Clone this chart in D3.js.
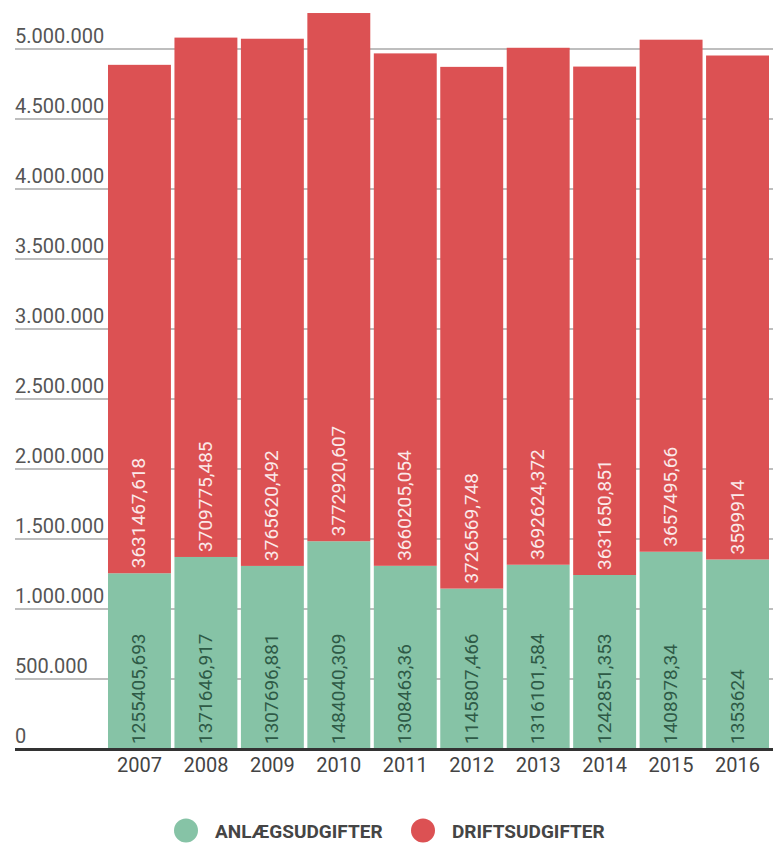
<!DOCTYPE html>
<html>
<head>
<meta charset="utf-8">
<script src="https://cdn.jsdelivr.net/npm/d3@7"></script>
<style>
  html, body { margin: 0; padding: 0; background: #fff; }
  svg { display: block; font-family: Roboto, "Noto Sans", sans-serif; }
</style>
</head>
<body>
<svg id="chart" width="773" height="843"></svg>
<script>
const years = ["2007","2008","2009","2010","2011","2012","2013","2014","2015","2016"];
const anlaeg = [1255405.693,1371646.917,1307696.881,1484040.309,1308463.36,1145807.466,1316101.584,1242851.353,1408978.34,1353624];
const drift = [3631467.618,3709775.485,3765620.492,3772920.607,3660205.054,3726569.748,3692624.372,3631650.851,3657495.66,3599914];
const yTicks = [0,500000,1000000,1500000,2000000,2500000,3000000,3500000,4000000,4500000,5000000];
const seriesNames = ["ANLÆGSUDGIFTER","DRIFTSUDGIFTER"];
const seriesColors = ["#86c3a6","#dc5153"];
const labelColors = ["#2e5a46","#fbe9e9"];

const svg = d3.select("#chart");
const loc = d3.formatLocale({decimal: ",", thousands: ".", grouping: [3], currency: ["", ""]});
const fmtTick = loc.format(",");
const fmtVal = v => String(v).replace(".", ",");

const x = d3.scaleBand().domain(years).range([108, 769]).paddingInner(0.053).paddingOuter(0);
const y = d3.scaleLinear().domain([0, 5000000]).range([749, 49]);

// grid + tick labels
const grid = svg.append("g");
grid.selectAll("line").data(yTicks.slice(1)).join("line")
  .attr("x1", 15).attr("x2", 773)
  .attr("y1", d => y(d)).attr("y2", d => y(d))
  .attr("stroke", "#a9a9a9").attr("stroke-width", 1.5);
grid.selectAll("text").data(yTicks).join("text")
  .attr("x", 15).attr("y", d => y(d) - 6)
  .attr("font-size", 20).attr("fill", "#555")
  .text(d => fmtTick(d));

// stacked data
const rows = years.map((yr, i) => ({year: yr, a: anlaeg[i], d: drift[i]}));
const stack = d3.stack().keys(["a","d"])(rows);

const layers = svg.append("g").selectAll("g").data(stack).join("g")
  .attr("fill", (d, i) => seriesColors[i]);
layers.selectAll("rect").data(d => d).join("rect")
  .attr("x", d => x(d.data.year))
  .attr("width", x.bandwidth())
  .attr("y", d => y(d[1]))
  .attr("height", d => y(d[0]) - y(d[1]));

// value labels
const labs = svg.append("g").selectAll("g").data(stack).join("g")
  .attr("fill", (d, i) => labelColors[i]);
labs.selectAll("text").data(d => d.map(p => ({p, key: d.key}))).join("text")
  .attr("transform", d => `translate(${x(d.p.data.year) + x.bandwidth()/2 + 6},${y(d.p[0]) - 5}) rotate(-90)`)
  .attr("font-size", 19)
  .attr("text-anchor", "start")
  .text(d => fmtVal(d.p.data[d.key]));

// baseline axis
svg.append("line")
  .attr("x1", 15).attr("x2", 773)
  .attr("y1", 749.5).attr("y2", 749.5)
  .attr("stroke", "#333").attr("stroke-width", 3);

// x axis labels
const xAxis = d3.axisBottom(x).tickSize(0).tickPadding(0);
const xg = svg.append("g").attr("transform", "translate(0,751)").call(xAxis);
xg.select(".domain").remove();
xg.selectAll("text").attr("font-size", 20).attr("fill", "#444")
  .attr("font-family", "Roboto, sans-serif").attr("dy", "1.05em");

// legend
const legendX = [186, 423];
const lg = svg.append("g").selectAll("g").data(seriesNames).join("g")
  .attr("transform", (d, i) => `translate(${legendX[i]},830.5)`);
lg.append("circle").attr("r", 12).attr("fill", (d, i) => seriesColors[i]);
lg.append("text").attr("x", 29).attr("y", 7.5)
  .attr("font-size", 19).attr("font-weight", "bold").attr("fill", "#454545")
  .text(d => d);
</script>
</body>
</html>
